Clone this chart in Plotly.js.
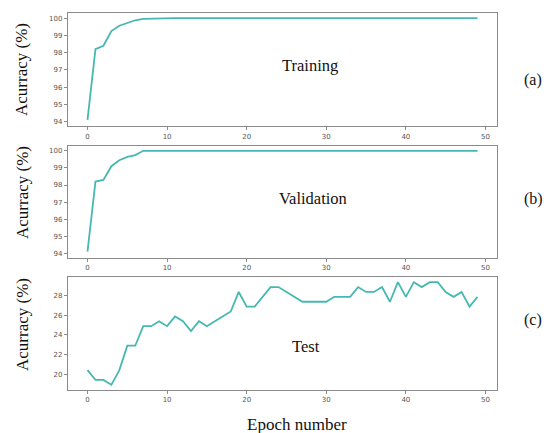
<!DOCTYPE html>
<html>
<head>
<meta charset="utf-8">
<script src="https://cdn.plot.ly/plotly-3.0.1.min.js"></script>
<style>html,body{margin:0;padding:0;background:#fff;}#chart{width:554px;height:433px;}</style>
</head>
<body>
<div id="chart"></div>
<script>
const epochs = Array.from({length: 50}, (_, i) => i);
const trainingAcc = [94.1, 98.2, 98.4, 99.25, 99.56, 99.73, 99.88, 99.96, 99.98,
  100,100,100,100,100,100,100,100,100,100,100,100,100,100,100,100,100,100,100,100,100,
  100,100,100,100,100,100,100,100,100,100,100,100,100,100,100,100,100,100,100,100];
const validationAcc = [94.1, 98.2, 98.3, 99.1, 99.45, 99.65, 99.75, 100, 100,
  100,100,100,100,100,100,100,100,100,100,100,100,100,100,100,100,100,100,100,100,100,
  100,100,100,100,100,100,100,100,100,100,100,100,100,100,100,100,100,100,100,100];
const testAcc = [20.4, 19.4, 19.4, 18.9, 20.4, 22.9, 22.9, 24.9, 24.9, 25.4,
  24.9, 25.9, 25.4, 24.4, 25.4, 24.9, 25.4, 25.9, 26.4, 28.4,
  26.9, 26.9, 27.9, 28.9, 28.9, 28.4, 27.9, 27.4, 27.4, 27.4,
  27.4, 27.9, 27.9, 27.9, 28.9, 28.4, 28.4, 28.9, 27.4, 29.4,
  27.9, 29.4, 28.9, 29.4, 29.4, 28.4, 27.9, 28.4, 26.9, 27.9];
const panelNames = ["Training", "Validation", "Test"];
const panelTags = ["(a)", "(b)", "(c)"];
const xTicks = [0, 10, 20, 30, 40, 50];
const yTicksTop = [94, 95, 96, 97, 98, 99, 100];
const yTicksTest = [20, 22, 24, 26, 28];

const lineColor = "#45b8b0";
const mk = (y, xa, ya) => ({x: epochs, y: y, xaxis: xa, yaxis: ya, type: "scatter", mode: "lines",
  line: {color: lineColor, width: 1.8}, hoverinfo: "skip", showlegend: false});

const data = [mk(trainingAcc, "x", "y"), mk(validationAcc, "x2", "y2"), mk(testAcc, "x3", "y3")];

const xd = [68/554, 497/554];
const doms = [[1-126/433, 1-13/433], [1-257.7/433, 1-145.7/433], [1-389.7/433, 1-277.3/433]];
const tickFont = {family: "DejaVu Sans", size: 7, color: "#555"};
const xax = (anchor) => ({domain: xd, anchor: anchor, range: [-2.45, 51.45], tickvals: xTicks,
  showline: true, linecolor: "#8a8a8a", linewidth: 1.2, mirror: true, ticks: "outside", ticklen: 3,
  tickcolor: "#8a8a8a", showgrid: false, zeroline: false, tickfont: tickFont, automargin: false});
const yax = (anchor, dom, range, tv) => ({domain: dom, anchor: anchor, range: range, tickvals: tv,
  showline: true, linecolor: "#8a8a8a", linewidth: 1.2, mirror: true, ticks: "outside", ticklen: 3,
  tickcolor: "#8a8a8a", showgrid: false, zeroline: false, tickfont: tickFont, automargin: false});

const serif = "Liberation Serif, Times New Roman, serif";
const annotations = [];
const centers = [[310, 65], [313, 198], [306, 346]];
const tagY = [80, 199, 320];
const ytitleY = [70, 193, 325];
for (let i = 0; i < 3; i++) {
  annotations.push({text: panelNames[i], x: centers[i][0]/554, y: 1-centers[i][1]/433, xref: "paper", yref: "paper",
    showarrow: false, font: {family: serif, size: 16.5, color: "#111"}, xanchor: "center", yanchor: "middle"});
  annotations.push({text: panelTags[i], x: 533/554, y: 1-tagY[i]/433, xref: "paper", yref: "paper",
    showarrow: false, font: {family: serif, size: 16, color: "#111"}, xanchor: "center", yanchor: "middle"});
  annotations.push({text: "Acurracy (%)", x: 22/554, y: 1-ytitleY[i]/433, xref: "paper", yref: "paper",
    showarrow: false, textangle: -90, font: {family: serif, size: 17, color: "#111"}, xanchor: "center", yanchor: "middle"});
}
annotations.push({text: "Epoch number", x: 297/554, y: 1-424/433, xref: "paper", yref: "paper",
  showarrow: false, font: {family: serif, size: 17, color: "#111"}, xanchor: "center", yanchor: "middle"});

const layout = {
  width: 554, height: 433,
  margin: {l: 0, r: 0, t: 0, b: 0},
  paper_bgcolor: "#fff", plot_bgcolor: "#fff",
  showlegend: false,
  xaxis: xax("y"), xaxis2: xax("y2"), xaxis3: xax("y3"),
  yaxis: yax("x", doms[0], [93.75, 100.3], yTicksTop),
  yaxis2: yax("x2", doms[1], [93.75, 100.3], yTicksTop),
  yaxis3: yax("x3", doms[2], [18.4, 29.9], yTicksTest),
  annotations: annotations
};
Plotly.newPlot("chart", data, layout, {staticPlot: true, displayModeBar: false});
</script>
</body>
</html>
